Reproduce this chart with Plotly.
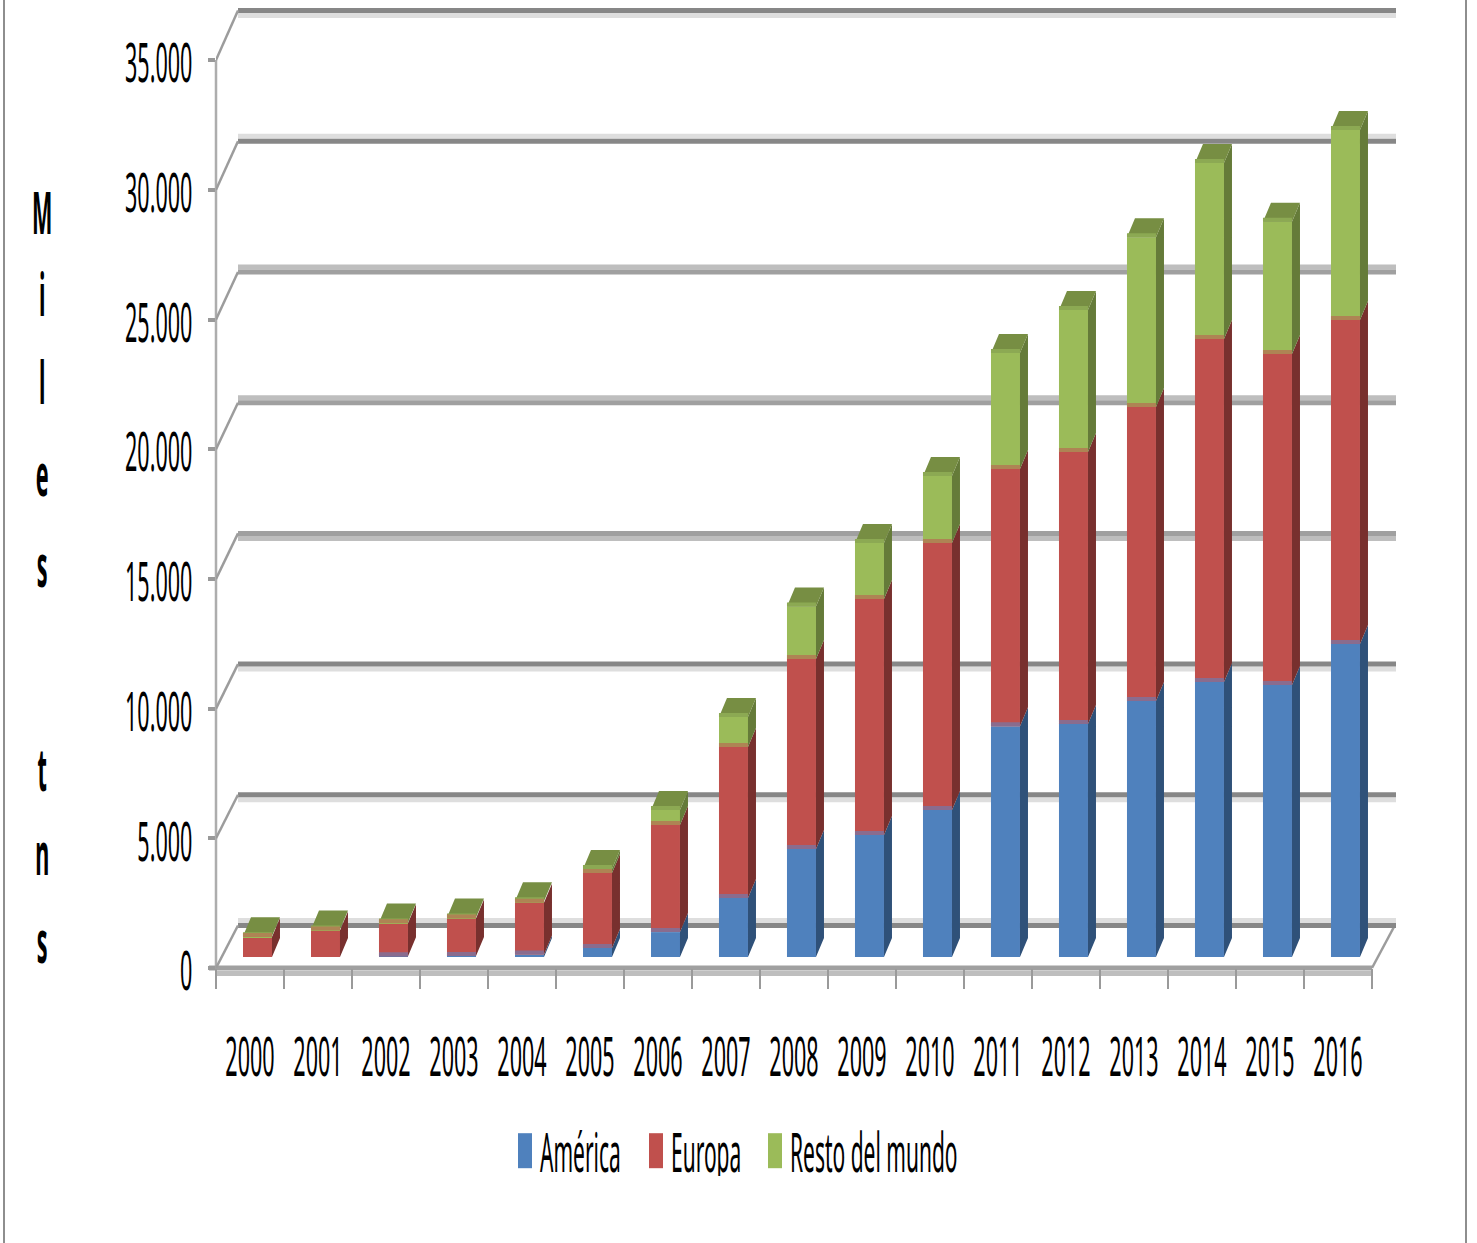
import plotly.graph_objects as go

years = [str(y) for y in range(2000, 2017)]
america = [0, 0, 30, 40, 100, 350, 960, 2275, 4160, 4700, 5670, 8900, 8980, 9870, 10600, 10490, 12070]
europa = [770, 1020, 1270, 1440, 1990, 2890, 4130, 5820, 7330, 9100, 10290, 9910, 10490, 11330, 13220, 12760, 12490]
resto = [30, 40, 30, 40, 60, 150, 580, 1160, 2020, 2160, 2580, 4470, 5470, 6550, 6790, 5090, 7320]
y_ticks = [0, 5000, 10000, 15000, 20000, 25000, 30000, 35000]
y_labels = ["0", "5.000", "10.000", "15.000", "20.000", "25.000", "30.000", "35.000"]
# wall-line look per tick: pale band side, dark colour, pale colour
light_side = [1, -1, -1, -1, 1, 1, 1, -1]
dark_cols = ["#878787", "#878787", "#878787", "#A0A0A0", "#A0A0A0", "#A0A0A0", "#878787", "#878787"]
pale_cols = ["#DEDEDE", "#DEDEDE", "#DEDEDE", "#BEBEBE", "#BEBEBE", "#BEBEBE", "#DEDEDE", "#DEDEDE"]
series = [
    ("América", america, "#4F81BD", "#2F5179", "#8A6C8E"),
    ("Europa", europa, "#C0504D", "#78302E", "#AE8454"),
    ("Resto del mundo", resto, "#9BBB59", "#657B39", "#8CA953"),
]
TOP_FACE = "#778E43"

W, H = 1477, 1243
L, R, B = 216, 1396, 968
PX_X = 68.0            # pixels per category
PX_Y = 0.02594         # pixels per value unit
ymax = B / PX_Y
bar_c, bar_w = 0.61, 29 / PX_X
base0 = 11 / PX_Y      # bars stand a little behind the front edge of the floor
dx, dy = 8 / PX_X, 19 / PX_Y
strip = 4 / PX_Y


def px(x):
    return (x - L) / (R - L)


def py(y):
    return (B - y) / B


def back(v):
    return v + (42.5 + 0.0002 * v) / PX_Y


wall_dx = 22 / PX_X
shapes = []


def seg(x0, y0, x1, y1, color, width, xref="x", yref="y"):
    shapes.append(dict(type="line", layer="below", xref=xref, yref=yref, x0=x0, y0=y0, x1=x1, y1=y1,
                       line=dict(color=color, width=width)))


xend = (R - L) / PX_X
for v, side, dk, pl in zip(y_ticks, light_side, dark_cols, pale_cols):
    b = back(v)
    seg(wall_dx, b + side * 5 / PX_Y, xend, b + side * 5 / PX_Y, pl, 5)
    seg(wall_dx, b, xend, b, dk, 5)
    seg(0, v, wall_dx, b, "#9C9C9C", 2.5)
seg(px(L), py(60), px(L), py(968), "#ADADAD", 2.5, "paper", "paper")
seg(px(L), py(973.5), px(1372), py(973.5), "#BEBEBE", 5, "paper", "paper")
seg(px(L - 7), py(968), px(1372), py(968), "#A0A0A0", 5, "paper", "paper")
seg(px(1372), py(968), px(1395), py(925), "#9C9C9C", 2.5, "paper", "paper")
seg(px(4), py(0), px(4), py(H), "#8E8E8E", 2, "paper", "paper")
seg(px(1466), py(0), px(1466), py(H), "#8E8E8E", 2, "paper", "paper")

fig = go.Figure()
xs = [i + bar_c for i in range(len(years))]
cum = [base0] * len(years)
tops = []
for name, vals, col, side, stripc in series:
    fig.add_trace(go.Bar(x=xs, y=vals, base=cum, width=bar_w, name=name,
                         marker=dict(color=col, line=dict(width=0)), hoverinfo="skip"))
    new = [c + v for c, v in zip(cum, vals)]
    tops.append((list(cum), new, vals, side, stripc))
    cum = new

for lo, hi, vals, side, stripc in tops:
    sx, sy = [], []
    for x, a, b, v in zip(xs, lo, hi, vals):
        if v <= 0:
            continue
        x1 = x + bar_w / 2
        sx += [x1, x1 + dx, x1 + dx, x1, x1, None]
        sy += [a, a + dy, b + dy, b, a, None]
    fig.add_trace(go.Scatter(x=sx, y=sy, mode="lines", fill="toself", fillcolor=side, line=dict(width=0),
                             showlegend=False, hoverinfo="skip"))

tx, ty = [], []
for x, t in zip(xs, cum):
    x0, x1 = x - bar_w / 2, x + bar_w / 2
    tx += [x0, x1, x1 + dx, x0 + dx, x0, None]
    ty += [t, t, t + dy, t + dy, t, None]
fig.add_trace(go.Scatter(x=tx, y=ty, mode="lines", fill="toself", fillcolor=TOP_FACE, line=dict(width=0),
                         showlegend=False, hoverinfo="skip"))

for lo, hi, vals, side, stripc in reversed(tops):
    tx, ty = [], []
    for x, t, v in zip(xs, hi, vals):
        if v <= 0:
            continue
        x0, x1 = x - bar_w / 2, x + bar_w / 2
        tx += [x0, x1, x1, x0, x0, None]
        ty += [t, t, t + strip, t + strip, t, None]
    fig.add_trace(go.Scatter(x=tx, y=ty, mode="lines", fill="toself", fillcolor=stripc, line=dict(width=0),
                             showlegend=False, hoverinfo="skip"))

FONT = "Noto Sans"
fig.update_layout(
    width=W, height=H, margin=dict(l=L, r=W - R, t=0, b=H - B, autoexpand=False),
    paper_bgcolor="white", plot_bgcolor="rgba(0,0,0,0)", barmode="overlay", shapes=shapes,
    font=dict(family=FONT, size=28, color="black"),
    xaxis=dict(range=[0, xend], showgrid=False, zeroline=False, showline=False,
               tickmode="array", tickvals=[i + 0.5 for i in range(len(years))], ticktext=years,
               ticks="outside", ticklen=0, ticklabelstandoff=63, tickangle=0,
               minor=dict(tickmode="array", tickvals=list(range(len(years) + 1)), ticks="outside",
                          ticklen=20, tickwidth=2, tickcolor="#9A9A9A")),
    yaxis=dict(range=[0, ymax], showgrid=False, zeroline=False, showline=False,
               tickmode="array", tickvals=y_ticks, ticktext=y_labels,
               ticks="outside", ticklen=7, tickwidth=3.5, tickcolor="#999999", ticklabelstandoff=10),
    legend=dict(orientation="h", x=px(505), xanchor="left", y=py(1151), yanchor="middle",
                bgcolor="rgba(0,0,0,0)", font=dict(size=28), traceorder="normal"),
    annotations=[dict(text="M<br>i<br>l<br>e<br>s<br> <br>t<br>n<br>s", xref="paper", yref="paper",
                      x=px(42), y=py(545), xanchor="center", yanchor="middle", showarrow=False,
                      align="center", font=dict(size=30, family=FONT, color="black", weight="bold"))],
)

post = """
document.body.style.margin='0';
function st(el,sx,sy,ax,dx,dy){
  var b=el.getBBox();
  var cx=ax==='r'?b.x+b.width:(ax==='l'?b.x:b.x+b.width/2), cy=b.y+b.height/2;
  var old=el.getAttribute('transform')||'';
  el.setAttribute('transform',old+' translate('+(cx+(dx||0))+','+(cy+(dy||0))+') scale('+sx+','+sy+') translate('+(-cx)+','+(-cy)+')');
}
document.querySelectorAll('.ytick text').forEach(function(t){st(t,0.77,1.95,'r',0,2);});
document.querySelectorAll('.xtick text').forEach(function(t){st(t,0.77,1.95,'c',0,0);});
document.querySelectorAll('.legendtext').forEach(function(t){st(t,0.75,1.95,'l',-5,0);});
document.querySelectorAll('.legendbar path, .legendpoints path').forEach(function(p){
  p.setAttribute('d','M7,17.5H-7V-17.5H7Z');});
var shift=[0,131,250];
document.querySelectorAll('.legend .traces').forEach(function(g,i){
  var y=(g.getAttribute('transform')||'').match(/,\\s*([-0-9.]+)\\)/);
  g.setAttribute('transform','translate('+shift[i]+','+(y?y[1]:0)+')');
});
var lineGaps=[82,88,92,91,102,102,84,88];
document.querySelectorAll('.annotation-text').forEach(function(t){
  var ls=t.querySelectorAll('tspan.line');
  var cumul=ls.length>2 && parseFloat(ls[2].getAttribute('dy'))>1.5*parseFloat(ls[1].getAttribute('dy'));
  var total=0;
  ls.forEach(function(s,i){
    if(i===0) return;
    var g=lineGaps[i-1]/1.95/30; total+=g;
    s.setAttribute('dy',(cumul?total:g)+'em');
  });
  st(t,0.72,1.95,'c',0,0);
});
"""
fig.write_html("out.html", post_script=post, config={"displayModeBar": False})
